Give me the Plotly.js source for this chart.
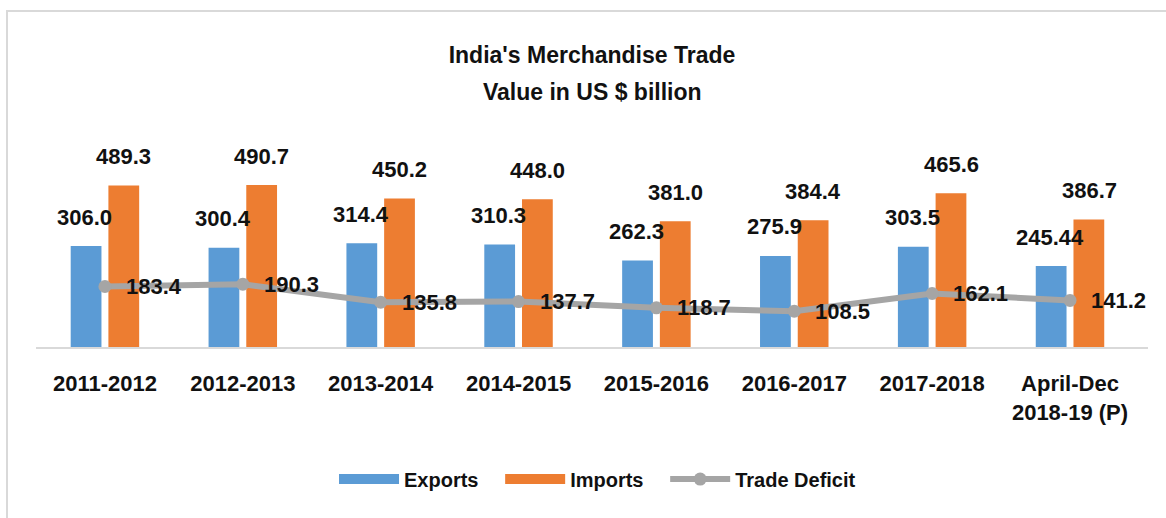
<!DOCTYPE html>
<html>
<head>
<meta charset="utf-8">
<script src="https://cdn.plot.ly/plotly-3.0.1.min.js"></script>
<style>
  html, body { margin: 0; padding: 0; background: #ffffff; }
  #wrap { position: relative; width: 1166px; height: 518px; overflow: hidden; }
  #chart { position: absolute; left: 0; top: 0; width: 1166px; height: 518px; }
  #frame { position: absolute; left: 6px; top: 10px; width: 1200px; height: 600px;
           border-top: 2px solid #d9d9d9; border-left: 2px solid #d9d9d9; pointer-events: none; }
</style>
</head>
<body>
<div id="wrap">
  <div id="chart"></div>
  <div id="frame"></div>
</div>
<script>
const categories = ['2011-2012', '2012-2013', '2013-2014', '2014-2015', '2015-2016', '2016-2017', '2017-2018', 'April-Dec<br>2018-19 (P)'];
const exportsVals = [306.0, 300.4, 314.4, 310.3, 262.3, 275.9, 303.5, 245.44];
const importsVals = [489.3, 490.7, 450.2, 448.0, 381.0, 384.4, 465.6, 386.7];
const deficitVals = [183.4, 190.3, 135.8, 137.7, 118.7, 108.5, 162.1, 141.2];
const seriesNames = ['Exports', 'Imports', 'Trade Deficit'];
const seriesColors = ['#5b9bd5', '#ed7d31', '#a5a5a5'];
const titleLines = ["India's Merchandise Trade", 'Value in US $ billion'];

const FONT = 'Liberation Sans, Arial, sans-serif';
const INK = '#111111';
const fmt = v => Number.isInteger(Math.round(v * 100) / 10) ? v.toFixed(1) : String(v);
const PAD = '\u00a0\u00a0\u00a0';

const traces = [
  { type: 'bar', name: seriesNames[0], x: categories, y: exportsVals,
    marker: { color: seriesColors[0] }, showlegend: false },
  { type: 'bar', name: seriesNames[1], x: categories, y: importsVals,
    marker: { color: seriesColors[1] }, showlegend: false },
  { type: 'scatter', mode: 'lines+markers', name: seriesNames[2], x: categories, y: deficitVals,
    line: { color: seriesColors[2], width: 6 }, marker: { color: seriesColors[2], size: 13 },
    showlegend: false },
  // legend entries (wide swatches like the original)
  { type: 'scatter', mode: 'lines', name: seriesNames[0] + PAD, x: [null], y: [null],
    line: { color: seriesColors[0], width: 15 }, legendrank: 1 },
  { type: 'scatter', mode: 'lines', name: seriesNames[1] + PAD, x: [null], y: [null],
    line: { color: seriesColors[1], width: 15 }, legendrank: 2 },
  { type: 'scatter', mode: 'lines+markers', name: seriesNames[2], x: [null], y: [null],
    line: { color: seriesColors[2], width: 6 }, marker: { color: seriesColors[2], size: 13 }, legendrank: 3 }
];

const labelFont = { family: FONT, size: 22, color: INK, weight: 'bold' };
const annotations = [];
categories.forEach((c, i) => {
  annotations.push({ x: c, y: exportsVals[i], xref: 'x', yref: 'y', text: fmt(exportsVals[i]),
    showarrow: false, xanchor: 'center', yanchor: 'middle', xshift: -20, yshift: 29, font: labelFont });
  annotations.push({ x: c, y: importsVals[i], xref: 'x', yref: 'y', text: fmt(importsVals[i]),
    showarrow: false, xanchor: 'center', yanchor: 'middle', xshift: 19, yshift: 29, font: labelFont });
  annotations.push({ x: c, y: deficitVals[i], xref: 'x', yref: 'y', text: fmt(deficitVals[i]),
    showarrow: false, xanchor: 'left', yanchor: 'middle', xshift: 19, yshift: 0, font: labelFont });
});
annotations.push({ x: 0.5, y: 1.287, xref: 'paper', yref: 'paper', text: titleLines[1],
  showarrow: false, xanchor: 'center', yanchor: 'middle',
  font: { family: FONT, size: 23, color: INK, weight: 'bold' } });

const layout = {
  width: 1166, height: 518,
  margin: { l: 36, r: 18, t: 149, b: 170.5 },
  paper_bgcolor: 'rgba(0,0,0,0)', plot_bgcolor: 'rgba(0,0,0,0)',
  title: { text: titleLines[0], x: 0.5, xref: 'paper', xanchor: 'center',
    y: 1 - 55 / 518, yref: 'container', yanchor: 'middle',
    font: { family: FONT, size: 23, color: INK, weight: 'bold' } },
  barmode: 'group', bargap: 0.453, bargroupgap: 0.184,
  xaxis: { type: 'category', showline: true, linecolor: '#d9d9d9', linewidth: 2,
    ticks: '', showgrid: false, zeroline: false, ticklabelstandoff: 16,
    tickfont: { family: FONT, size: 22, color: INK, weight: 'bold' } },
  yaxis: { range: [0, 600], visible: false, showgrid: false, zeroline: false },
  showlegend: true,
  legend: { orientation: 'h', x: 0.268, xanchor: 'left', y: -0.667, yanchor: 'middle',
    itemwidth: 60,
    font: { family: FONT, size: 20, color: INK, weight: 'bold' },
    bgcolor: 'rgba(0,0,0,0)', traceorder: 'normal' },
  annotations: annotations,
  hovermode: false
};

Plotly.newPlot('chart', traces, layout, { displayModeBar: false, staticPlot: true });
</script>
</body>
</html>
